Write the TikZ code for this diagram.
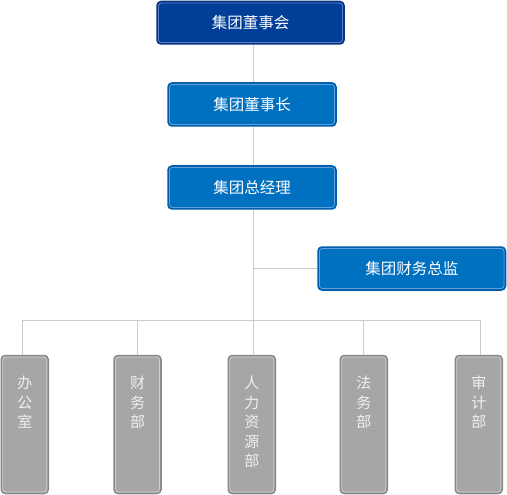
\documentclass[tikz,border=0pt]{standalone}
\usepackage{fontspec}
\newfontfamily\cjk{Noto Sans CJK SC}
\definecolor{topfill}{RGB}{0,62,152}
\definecolor{topedge}{RGB}{10,50,130}
\definecolor{topinner}{RGB}{90,130,195}
\definecolor{bluefill}{RGB}{0,112,192}
\definecolor{blueedge}{RGB}{0,92,170}
\definecolor{blueinner}{RGB}{95,160,220}
\definecolor{grayfill}{RGB}{166,166,166}
\definecolor{grayedge}{RGB}{135,135,135}
\definecolor{grayinner}{RGB}{205,205,205}
\definecolor{linkcol}{RGB}{204,204,204}
\tikzset{
  box/.style={rounded corners=4pt, line width=1.5pt, inner sep=0pt, outer sep=0.75pt},
  topbox/.style={box, fill=topfill, draw=topedge, minimum width=187pt, minimum height=42.5pt},
  bluebox/.style={box, fill=bluefill, draw=blueedge, minimum width=168pt, minimum height=43pt},
  widebox/.style={bluebox, minimum width=187.5pt},
  graybox/.style={box, fill=grayfill, draw=grayedge, minimum width=47pt, minimum height=138pt},
  inl/.style={rounded corners=3pt, line width=0.8pt},
  boxtext/.style={font=\cjk\fontsize{15.5}{17}\selectfont, text=white},
  vtext/.style={font=\cjk\fontsize{15}{19.6}\selectfont, text=white!94!black, align=center, anchor=north, inner sep=0pt},
  link/.style={draw=linkcol, line width=1pt}
}
\newcommand{\innerline}[2]{\draw[inl, draw=#2] ([xshift=2.2pt,yshift=-2.2pt]#1.north west) rectangle ([xshift=-2.2pt,yshift=2.2pt]#1.south east);}
\begin{document}
\begin{tikzpicture}[x=1pt,y=-1pt]
\useasboundingbox (0,0) rectangle (507,495);
% boxes
\node[topbox, boxtext] (dsh) at (250.5,22.75) {集团董事会};
\node[bluebox, boxtext] (dsz) at (252,104.5) {集团董事长};
\node[bluebox, boxtext] (zjl) at (252,187.5) {集团总经理};
\node[widebox, boxtext] (cwzj) at (411.75,268.5) {集团财务总监};
\node[graybox] (bgs) at (24.75,424.5) {};
\node[graybox] (cwb) at (137.5,424.5) {};
\node[graybox] (rlzy) at (251.75,424.5) {};
\node[graybox] (fwb) at (363.75,424.5) {};
\node[graybox] (sjb) at (478.75,424.5) {};
\innerline{dsh}{topinner}
\innerline{dsz}{blueinner}
\innerline{zjl}{blueinner}
\innerline{cwzj}{blueinner}
\foreach \nm in {bgs,cwb,rlzy,fwb,sjb}{\innerline{\nm}{grayinner}}
% vertical texts
\node[vtext] at ([yshift=-21pt]bgs.north) {办\\公\\室};
\node[vtext] at ([yshift=-21pt]cwb.north) {财\\务\\部};
\node[vtext] at ([yshift=-21pt]rlzy.north) {人\\力\\资\\源\\部};
\node[vtext] at ([yshift=-21pt]fwb.north) {法\\务\\部};
\node[vtext] at ([yshift=-21pt]sjb.north) {审\\计\\部};
% connectors
\coordinate (fin) at (253,268);
\coordinate (barC) at (253,320);
\coordinate (barL) at (22,320);
\coordinate (barR) at (480,320);
\draw[link] (dsh.south -| 253,0) -- (dsz.north -| 253,0);
\draw[link] (dsz.south -| 253,0) -- (zjl.north -| 253,0);
\draw[link] (zjl.south -| 253,0) -- (barC);
\draw[link] (fin) -- (cwzj.west |- fin);
\draw[link] (barL) -- (barR);
\draw[link] (barL) -- (bgs.north -| barL);
\draw[link] (cwb.north |- barC) -- (cwb.north);
\draw[link] (barC) -- (rlzy.north -| barC);
\draw[link] (fwb.north |- barC) -- (fwb.north);
\draw[link] (barR) -- (sjb.north -| barR);
\end{tikzpicture}
\end{document}
